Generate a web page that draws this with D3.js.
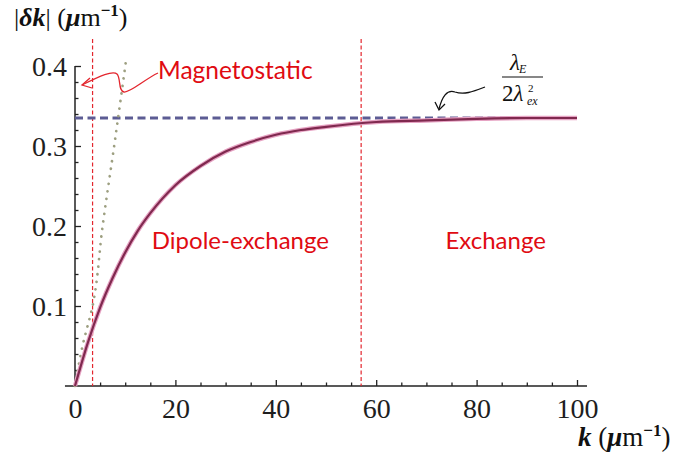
<!DOCTYPE html>
<html>
<head>
<meta charset="utf-8">
<script src="https://cdnjs.cloudflare.com/ajax/libs/d3/7.8.5/d3.min.js"></script>
<style>
  body { margin: 0; background: #fff; }
  svg { display: block; }
</style>
</head>
<body>
<svg id="chart" width="700" height="462"></svg>
<script>
// dispersion curve |dk| vs k
const kValues = [0, 2.5, 5, 7.5, 10, 12.5, 15, 20, 25, 30, 35, 40, 45, 50, 60, 70, 80, 90, 100];
const deltaK  = [0, 0.053, 0.098, 0.135, 0.167, 0.194, 0.216, 0.251, 0.275, 0.293, 0.305,
                 0.314, 0.320, 0.324, 0.330, 0.332, 0.334, 0.335, 0.335];

// magnetostatic approximation (dotted)
const magnetoK  = [0, 1.5, 3.5, 5.5, 7.8, 10.1];
const magnetoDk = [0, 0.05, 0.1, 0.2, 0.3, 0.404];

// exchange limit lambda_E / (2 lambda_ex^2)
const exchangeLimit = 0.335;

// regime boundaries
const boundaries = [3.5, 57];

const xMajor = [0, 20, 40, 60, 80, 100];
const xMinor = [5, 10, 15, 25, 30, 35, 45, 50, 55, 65, 70, 75, 85, 90, 95];
const yMajor = [0.1, 0.2, 0.3, 0.4];
const yMinor = [0.02, 0.04, 0.06, 0.08, 0.12, 0.14, 0.16, 0.18, 0.22, 0.24, 0.26, 0.28, 0.32, 0.34, 0.36, 0.38];

const regions = [
  { name: 'Dipole-exchange', k: 15.3, y: 0.171 },
  { name: 'Exchange', k: 73.8, y: 0.171 }
];

const SERIF = '"Liberation Serif", "Times New Roman", Times, serif';
const SANS = 'Lato, "Open Sans", sans-serif';
const RED = '#e00b12';

let svg = d3.select('#chart');

let x = d3.scaleLinear().domain([0, 100]).range([75, 577]);
let y = d3.scaleLinear().domain([0, 0.4]).range([386, 66]);

// axes (Mathematica style, ticks pointing inward)
let xAxis = svg.append('g')
  .attr('transform', `translate(0, ${y(0)})`)
  .call(d3.axisBottom(x).tickValues(xMajor).tickSize(-6).tickPadding(12).tickFormat(d3.format('d')));
xAxis.attr('font-family', null);
xAxis.select('.domain').remove();

let xMinorAxis = svg.append('g')
  .attr('transform', `translate(0, ${y(0)})`)
  .call(d3.axisBottom(x).tickValues(xMinor).tickSize(-3.5).tickFormat(''));
xMinorAxis.select('.domain').remove();

let yAxis = svg.append('g')
  .attr('transform', `translate(${x(0)}, 0)`)
  .call(d3.axisLeft(y).tickValues(yMajor).tickSize(-6).tickPadding(8).tickFormat(d3.format('.1f')));
yAxis.attr('font-family', null);
yAxis.select('.domain').remove();

let yMinorAxis = svg.append('g')
  .attr('transform', `translate(${x(0)}, 0)`)
  .call(d3.axisLeft(y).tickValues(yMinor).tickSize(-3.5).tickFormat(''));
yMinorAxis.select('.domain').remove();

svg.selectAll('.tick text')
  .style('font-family', SERIF)
  .style('font-size', '28px')
  .style('fill', '#1e1e1e');
yAxis.selectAll('.tick text').attr('dy', '0.34em');
xAxis.selectAll('.tick text').attr('dy', '0.72em');

svg.selectAll('.tick line').attr('stroke', '#222').attr('stroke-width', 1.3);

svg.append('line')
  .attr('x1', x(-2)).attr('x2', x(102))
  .attr('y1', y(0)).attr('y2', y(0))
  .attr('stroke', '#222').attr('stroke-width', 1.5);

svg.append('line')
  .attr('x1', x(0)).attr('x2', x(0))
  .attr('y1', y(0)).attr('y2', y(0.4))
  .attr('stroke', '#222').attr('stroke-width', 1.5);

// regime boundaries
svg.selectAll('line.boundary')
  .data(boundaries)
  .enter()
  .append('line')
  .attr('class', 'boundary')
  .attr('x1', d => x(d)).attr('x2', d => x(d))
  .attr('y1', 39).attr('y2', y(0))
  .attr('stroke', '#e3262e')
  .attr('stroke-width', 1.2)
  .attr('stroke-dasharray', '4 2.5');

// exchange limit
svg.append('line')
  .attr('x1', x(0)).attr('x2', x(100))
  .attr('y1', y(exchangeLimit)).attr('y2', y(exchangeLimit))
  .attr('stroke', '#5c5c94')
  .attr('stroke-width', 3)
  .attr('stroke-dasharray', '8 4.5');

// magnetostatic line
let magLine = d3.line()
  .x((d, i) => x(magnetoK[i]))
  .y(d => y(d))
  .curve(d3.curveMonotoneY);

svg.append('path')
  .attr('d', magLine(magnetoDk))
  .attr('fill', 'none')
  .attr('stroke', '#9d9f80')
  .attr('stroke-width', 2.7)
  .attr('stroke-linecap', 'round')
  .attr('stroke-dasharray', '0.1 7.5');

// main curve
let line = d3.line()
  .x((d, i) => x(kValues[i]))
  .y(d => y(d))
  .curve(d3.curveMonotoneX);

svg.append('path')
  .attr('d', line(deltaK))
  .attr('fill', 'none')
  .attr('stroke', '#e6a3c3')
  .attr('stroke-width', 4.5);

svg.append('path')
  .attr('d', line(deltaK))
  .attr('fill', 'none')
  .attr('stroke', '#80294f')
  .attr('stroke-width', 2.2);

// region labels
svg.selectAll('text.region')
  .data(regions)
  .enter()
  .append('text')
  .attr('class', 'region')
  .attr('x', d => x(d.k))
  .attr('y', d => y(d.y))
  .text(d => d.name)
  .style('font-family', SANS)
  .style('font-size', '24px')
  .style('fill', RED);

// Magnetostatic label and its arrow
svg.append('text')
  .attr('x', 158)
  .attr('y', 79)
  .text('Magnetostatic')
  .style('font-family', SANS)
  .style('font-size', '24.5px')
  .style('fill', RED);

svg.append('path')
  .attr('d', 'M158,73 C145,79 130,93 124,92 C118,91 121,78 117,74 C113,70 100,76 82,85')
  .attr('fill', 'none')
  .attr('stroke', '#e3262e')
  .attr('stroke-width', 1.3);

svg.append('path')
  .attr('d', 'M90,78 L82,85 L92,88')
  .attr('fill', 'none')
  .attr('stroke', '#e3262e')
  .attr('stroke-width', 1.3);

// squiggly pointer to the limit
svg.append('path')
  .attr('d', 'M485,87 C472,92 464,95 455,92 C447,89 442,97 439,109')
  .attr('fill', 'none')
  .attr('stroke', '#111')
  .attr('stroke-width', 1.3);

svg.append('path')
  .attr('d', 'M435,102 L439,110 L445,104')
  .attr('fill', 'none')
  .attr('stroke', '#111')
  .attr('stroke-width', 1.3);

// fraction lambda_E / (2 lambda_ex^2)
let frac = svg.append('g')
  .style('font-family', SERIF)
  .style('fill', '#111');

let num = frac.append('text').attr('x', 510).attr('y', 70).style('font-size', '23px');
num.append('tspan').style('font-style', 'italic').text('λ');
num.append('tspan').attr('dy', 3).attr('dx', -1).style('font-size', '12px').style('font-style', 'italic').text('E');

frac.append('line')
  .attr('x1', 502).attr('x2', 543)
  .attr('y1', 77).attr('y2', 77)
  .attr('stroke', '#111').attr('stroke-width', 1.1);

let den = frac.append('text').attr('x', 502).attr('y', 101).style('font-size', '23px');
den.append('tspan').text('2');
den.append('tspan').style('font-style', 'italic').text('λ');

frac.append('text').attr('x', 528).attr('y', 92)
  .style('font-size', '11px').text('2');
frac.append('text').attr('x', 527).attr('y', 105)
  .style('font-size', '12px').style('font-style', 'italic').text('ex');

// axis titles
let yTitle = svg.append('text')
  .attr('x', 14).attr('y', 26)
  .style('font-family', SERIF)
  .style('font-size', '26px')
  .style('fill', '#111');
yTitle.append('tspan').text('|');
yTitle.append('tspan').style('font-style', 'italic').style('font-weight', 'bold').text('δk');
yTitle.append('tspan').text('| (');
yTitle.append('tspan').style('font-style', 'italic').style('font-weight', 'bold').text('μ');
yTitle.append('tspan').text('m');
yTitle.append('tspan').attr('dy', -10).style('font-size', '17px').style('font-weight', 'bold').text('−1');
yTitle.append('tspan').attr('dy', 10).text(')');

let xTitle = svg.append('text')
  .attr('x', 578).attr('y', 446)
  .style('font-family', SERIF)
  .style('font-size', '27px')
  .style('fill', '#111');
xTitle.append('tspan').style('font-style', 'italic').style('font-weight', 'bold').text('k');
xTitle.append('tspan').text(' (');
xTitle.append('tspan').style('font-style', 'italic').style('font-weight', 'bold').text('μ');
xTitle.append('tspan').text('m');
xTitle.append('tspan').attr('dy', -10).style('font-size', '17px').style('font-weight', 'bold').text('−1');
xTitle.append('tspan').attr('dy', 10).text(')');
</script>
</body>
</html>
